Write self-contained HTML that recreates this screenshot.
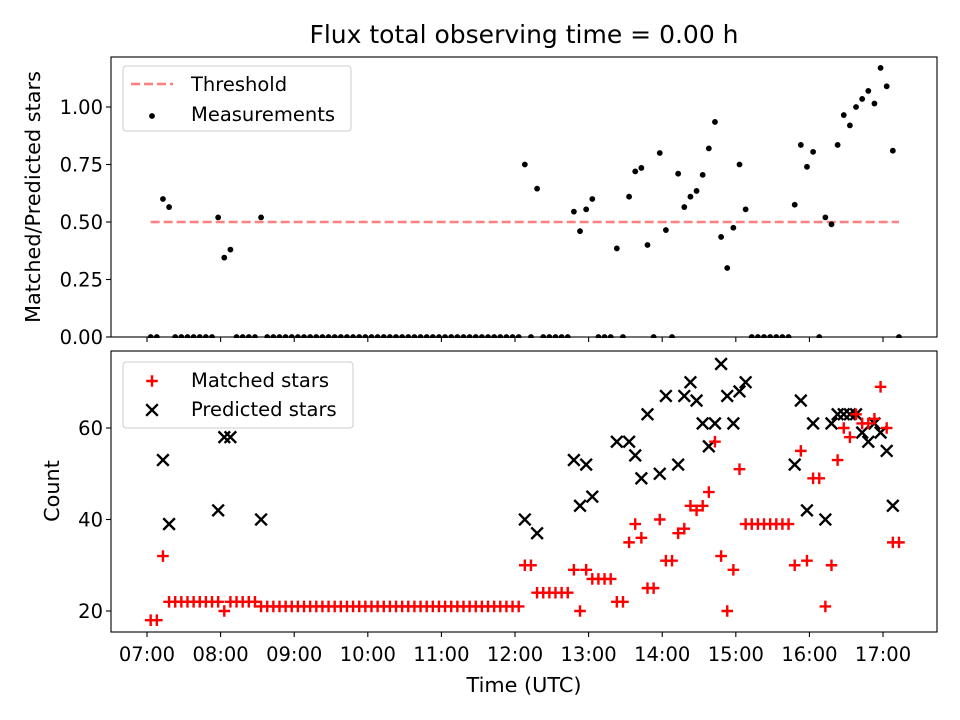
<!DOCTYPE html>
<html><head><meta charset="utf-8"><style>
html,body{margin:0;padding:0;background:#fff;}
svg{display:block;font-family:"DejaVu Sans","Liberation Sans",sans-serif;}
</style></head><body>
<svg id="chart" width="960" height="720" viewBox="0 0 960 720" xmlns="http://www.w3.org/2000/svg">
<rect width="960" height="720" fill="#fff"/>
<text x="524" y="43" font-size="25" text-anchor="middle">Flux total observing time = 0.00 h</text>
<g id="topPanel"></g><g id="botPanel"></g>
<text transform="translate(40,197) rotate(-90)" font-size="20.8" text-anchor="middle">Matched/Predicted stars</text>
<text transform="translate(59,491) rotate(-90)" font-size="20.8" text-anchor="middle">Count</text>
<text x="524" y="692" font-size="20.8" text-anchor="middle">Time (UTC)</text>
</svg>
<script>
// minutes after 07:00 UTC
const times=[3,8,13,18,23,28,33,38,43,48,53,58,63,68,73,78,83,88,93,98,103,108,113,118,123,128,133,138,143,148,153,158,163,168,173,178,183,188,193,198,203,208,213,218,223,228,233,238,243,248,253,258,263,268,273,278,283,288,293,298,303,308,313,318,323,328,333,338,343,348,353,358,363,368,373,378,383,388,393,398,403,408,413,418,423,428,433,438,443,448,453,458,463,468,473,478,483,488,493,498,503,508,513,518,523,528,533,538,543,548,553,558,563,568,573,578,583,588,593,598,603,608,613];
const matched=[18,18,32,22,22,22,22,22,22,22,22,22,20,22,22,22,22,22,21,21,21,21,21,21,21,21,21,21,21,21,21,21,21,21,21,21,21,21,21,21,21,21,21,21,21,21,21,21,21,21,21,21,21,21,21,21,21,21,21,21,21,30,30,24,24,24,24,24,24,29,20,29,27,27,27,27,22,22,35,39,36,25,25,40,31,31,37,38,43,42,43,46,57,32,20,29,51,39,39,39,39,39,39,39,39,30,55,31,49,49,21,30,53,60,58,63,61,61,62,69,60,35,35];
const predicted=[null,null,53,39,null,null,null,null,null,null,null,42,58,58,null,null,null,null,40,null,null,null,null,null,null,null,null,null,null,null,null,null,null,null,null,null,null,null,null,null,null,null,null,null,null,null,null,null,null,null,null,null,null,null,null,null,null,null,null,null,null,40,null,37,null,null,null,null,null,53,43,52,45,null,null,null,57,null,57,54,49,63,null,50,67,null,52,67,70,66,61,56,61,74,67,61,68,70,null,null,null,null,null,null,null,52,66,42,61,null,40,61,63,63,63,63,59,57,61,59,55,43,null];
const ratio=[0,0,0.60,0.565,0,0,0,0,0,0,0,0.52,0.345,0.38,0,0,0,0,0.52,0,0,0,0,0,0,0,0,0,0,0,0,0,0,0,0,0,0,0,0,0,0,0,0,0,0,0,0,0,0,0,0,0,0,0,0,0,0,0,0,0,0,0.75,0,0.645,0,0,0,0,0,0.545,0.46,0.555,0.60,0,0,0,0.385,0,0.61,0.72,0.735,0.40,0,0.80,0.465,0,0.71,0.565,0.61,0.635,0.705,0.82,0.935,0.435,0.30,0.475,0.75,0.555,0,0,0,0,0,0,0,0.575,0.835,0.74,0.805,0,0.52,0.49,0.835,0.965,0.92,1.0,1.035,1.07,1.015,1.17,1.09,0.81,0];
const threshold=[0.5,0.5];
const thresholdT=[3,613];
const xTicks=[0,60,120,180,240,300,360,420,480,540,600];
const xTickLabels=["07:00","08:00","09:00","10:00","11:00","12:00","13:00","14:00","15:00","16:00","17:00"];
const topTicks=[0,0.25,0.5,0.75,1.0];
const topTickLabels=["0.00","0.25","0.50","0.75","1.00"];
const botTicks=[20,40,60];
const botTickLabels=["20","40","60"];

const NS="http://www.w3.org/2000/svg";
const L=111,R=937,FS=19.5;
const xS=m=>147+m*1.2267;
const yTop=v=>337-v*230;
const yBot=c=>611-(c-20)*4.575;
function mk(tag,attrs,parent){const e=document.createElementNS(NS,tag);for(const k in attrs)e.setAttribute(k,attrs[k]);parent.appendChild(e);return e;}
const topG=document.getElementById('topPanel'),botG=document.getElementById('botPanel');

function axes(g,y0,y1,ticks,labels,yf,showX,name){
  const fr=mk('rect',{x:L,y:y0,width:R-L,height:y1-y0,fill:'none',stroke:'#000','stroke-width':1.1},g);
  
  
  ticks.forEach((t,i)=>{
    const y=yf(t);
    const tl=mk('line',{x1:L-5,x2:L,y1:y,y2:y,stroke:'#000','stroke-width':1.1},g);
    
    
    const tx=mk('text',{x:L-8,y:y+7,'font-size':FS,'text-anchor':'end'},g);
    tx.textContent=labels[i];
    
    
  });
  xTicks.forEach((m,i)=>{
    const x=xS(m);
    const tl=mk('line',{x1:x,x2:x,y1:y1,y2:y1+5,stroke:'#000','stroke-width':1.1},g);
    
    
    if(showX){
      const tx=mk('text',{x:x,y:y1+29,'font-size':FS,'text-anchor':'middle'},g);
      tx.textContent=xTickLabels[i];
      
      
    }
  });
}
axes(topG,57,337,topTicks,topTickLabels,yTop,false,'top');
axes(botG,351,632,botTicks,botTickLabels,yBot,true,'bottom');

const th=mk('line',{x1:xS(thresholdT[0]),x2:xS(thresholdT[1]),y1:yTop(threshold[0]),y2:yTop(threshold[1]),stroke:'#ff7f7f','stroke-width':2.5,'stroke-dasharray':'9,4'},topG);


const clipT=mk('clipPath',{id:'ct'},topG);mk('rect',{x:L,y:50,width:R-L,height:288},clipT);
const mg=mk('g',{'clip-path':'url(#ct)'},topG);
times.forEach((m,i)=>{
  const c=mk('circle',{cx:xS(m),cy:yTop(ratio[i]),r:2.9,fill:'#000'},mg);
  
  
});
times.forEach((m,i)=>{
  if(predicted[i]!==null){
    const x=xS(m),y=yBot(predicted[i]),s=5.8;
    const p=mk('path',{d:`M${x-s},${y-s}L${x+s},${y+s}M${x-s},${y+s}L${x+s},${y-s}`,stroke:'#000','stroke-width':2.4},botG);
    
    
  }
});
times.forEach((m,i)=>{
  const x=xS(m),y=yBot(matched[i]),s=5.8;
  const p=mk('path',{d:`M${x-s},${y}L${x+s},${y}M${x},${y-s}L${x},${y+s}`,stroke:'#ff0000','stroke-width':2.4},botG);
  
  
});

function legend(g,y0,h,w,name){
  const r=mk('rect',{x:123,y:y0,width:w,height:h,rx:3,fill:'#fff','fill-opacity':0.8,stroke:'#ccc','stroke-width':1},g);
  
  
}
legend(topG,66,65,228,'top-legend');
const l1=mk('line',{x1:131,x2:173,y1:84,y2:84,stroke:'#ff7f7f','stroke-width':2.5,'stroke-dasharray':'9,4'},topG);


const t1=mk('text',{x:191,y:91,'font-size':FS},topG);t1.textContent='Threshold';


const d1=mk('circle',{cx:152,cy:116,r:2.9,fill:'#000'},topG);


const t2=mk('text',{x:191,y:121,'font-size':FS},topG);t2.textContent='Measurements';



legend(botG,362,66,230,'bottom-legend');
const pm=mk('path',{d:'M146.2,381L157.8,381M152,375.2L152,386.8',stroke:'#ff0000','stroke-width':2.4},botG);


const t3=mk('text',{x:191,y:387,'font-size':FS},botG);t3.textContent='Matched stars';


const xm=mk('path',{d:'M146.2,404.2L157.8,415.8M146.2,415.8L157.8,404.2',stroke:'#000','stroke-width':2.4},botG);


const t4=mk('text',{x:191,y:416,'font-size':FS},botG);t4.textContent='Predicted stars';


</script>
</body></html>
